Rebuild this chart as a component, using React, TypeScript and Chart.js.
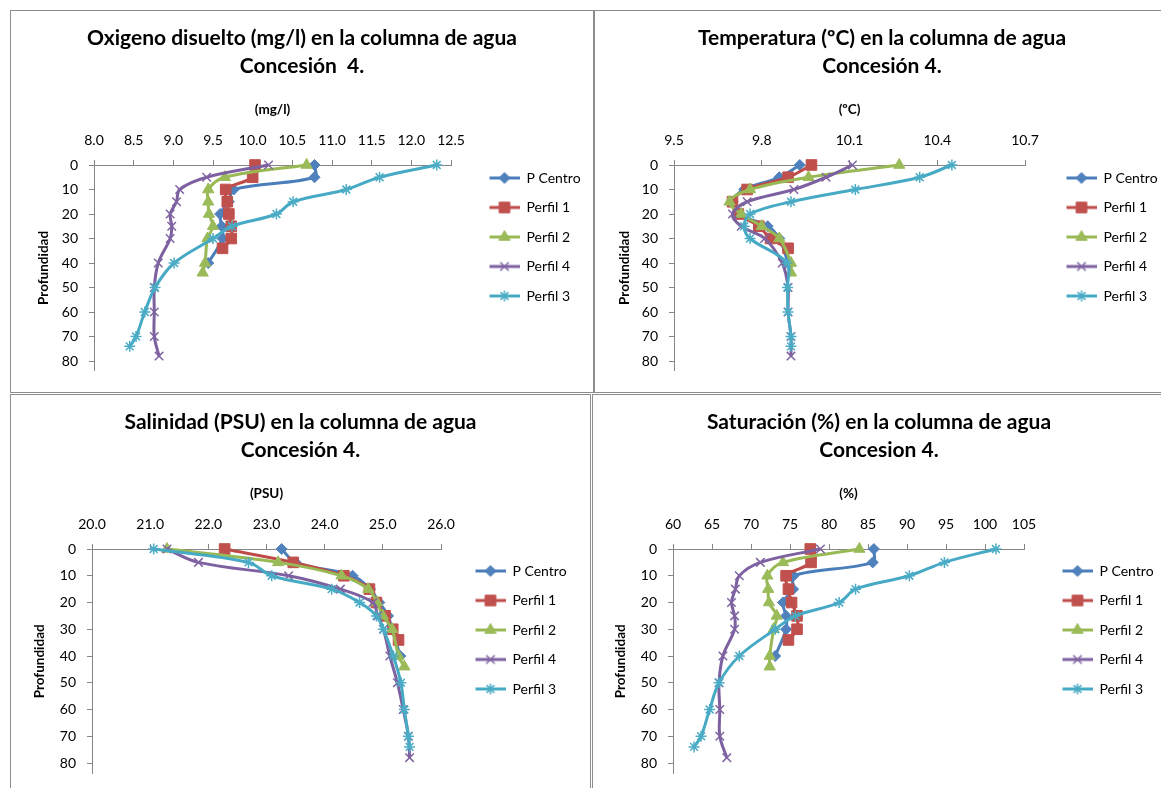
import React, { useEffect, useRef } from 'react';
import { Chart, registerables } from 'chart.js';
import { drawPoint } from 'chart.js/helpers';

Chart.register(...registerables);

// ---------- data ----------
const SERIES = ['P Centro', 'Perfil 1', 'Perfil 2', 'Perfil 4', 'Perfil 3'];

const DEPTH_PC = [0, 5, 10, 15, 20, 25, 30, 40];
const DEPTH_P1 = [0, 5, 10, 15, 20, 25, 30, 34];
const DEPTH_P2 = [0, 5, 10, 15, 20, 25, 30, 40, 44];
const DEPTH_P4 = [0, 5, 10, 15, 20, 25, 30, 40, 50, 60, 70, 78];
const DEPTH_P3 = [0, 5, 10, 15, 20, 25, 30, 40, 50, 60, 70, 74];
const DEPTH_TICKS = [0, 10, 20, 30, 40, 50, 60, 70, 80];

const OXY_PC = [10.78, 10.78, 9.76, 9.7, 9.59, 9.61, 9.62, 9.44];
const OXY_P1 = [10.03, 10.0, 9.66, 9.68, 9.7, 9.73, 9.73, 9.62];
const OXY_P2 = [10.68, 9.65, 9.44, 9.44, 9.45, 9.5, 9.43, 9.4, 9.37];
const OXY_P4 = [10.2, 9.42, 9.08, 9.04, 8.96, 8.98, 8.96, 8.81, 8.76, 8.76, 8.76, 8.82];
const OXY_P3 = [12.32, 11.6, 11.18, 10.51, 10.3, 9.74, 9.5, 9.01, 8.77, 8.64, 8.53, 8.45];
const OXY_TICKS = [8.0, 8.5, 9.0, 9.5, 10.0, 10.5, 11.0, 11.5, 12.0, 12.5];

const TEMP_PC = [9.93, 9.86, 9.74, 9.7, 9.72, 9.82, 9.86, 9.89];
const TEMP_P1 = [9.97, 9.89, 9.75, 9.7, 9.72, 9.79, 9.83, 9.89];
const TEMP_P2 = [10.27, 9.96, 9.76, 9.69, 9.73, 9.8, 9.86, 9.9, 9.9];
const TEMP_P4 = [10.11, 10.02, 9.91, 9.75, 9.7, 9.73, 9.81, 9.87, 9.89, 9.89, 9.9, 9.9];
const TEMP_P3 = [10.45, 10.34, 10.12, 9.9, 9.76, 9.74, 9.76, 9.886, 9.888, 9.89, 9.9, 9.9];
const TEMP_TICKS = [9.5, 9.8, 10.1, 10.4, 10.7];

const SAL_PC = [23.26, 23.5, 24.48, 24.78, 24.94, 25.09, 25.16, 25.3];
const SAL_P1 = [22.28, 23.46, 24.33, 24.77, 24.89, 25.04, 25.17, 25.27];
const SAL_P2 = [21.29, 23.2, 24.29, 24.75, 24.9, 25.0, 25.16, 25.27, 25.37];
const SAL_P4 = [21.29, 21.83, 23.38, 24.27, 24.83, 24.91, 25.01, 25.12, 25.25, 25.35, 25.44, 25.46];
const SAL_P3 = [21.06, 22.69, 23.09, 24.12, 24.6, 24.89, 25.01, 25.18, 25.31, 25.37, 25.44, 25.46];
const SAL_TICKS = [20, 21, 22, 23, 24, 25, 26];

const SAT_PC = [85.75, 85.6, 75.45, 75.4, 74.1, 74.5, 74.5, 73.1];
const SAT_P1 = [77.6, 77.7, 74.5, 74.8, 75.2, 75.9, 75.9, 74.8];
const SAT_P2 = [83.9, 74.1, 72.1, 72.2, 72.3, 73.3, 72.9, 72.4, 72.4];
const SAT_P4 = [78.9, 71.2, 68.5, 68.0, 67.5, 67.9, 67.9, 66.4, 65.9, 66.0, 66.0, 66.9];
const SAT_P3 = [101.4, 94.8, 90.3, 83.4, 81.3, 75.7, 73.1, 68.5, 65.9, 64.7, 63.6, 62.7];
const SAT_TICKS = [60, 65, 70, 75, 80, 85, 90, 95, 100, 105];

const DEPTHS = [DEPTH_PC, DEPTH_P1, DEPTH_P2, DEPTH_P4, DEPTH_P3];

// ---------- styles ----------
const FONT = 'Lato, "Open Sans", sans-serif';
const AXIS_COLOR = '#868686';
const TITLE_FS = 21;
const TITLE_LH = 28;
const TICK_FS = 14;
const LEG_FS = 14;
const AXT_FS = 13.5;
const YT_FS = 13.5;

const STYLES = [
  { line: '#4A7EBB', fill: '#4F81BD', point: 'rectRot', r: 5.5, bw: 1 },
  { line: '#BE4B48', fill: '#C0504D', point: 'rect', r: 7.5, bw: 1 },
  { line: '#98B954', fill: '#9BBB59', point: 'triangle', r: 6.5, bw: 1 },
  { line: '#7D60A0', fill: '#8064A2', point: 'crossRot', r: 6, bw: 1.5 },
  { line: '#46AAC5', fill: '#4BACC6', point: 'star', r: 5.5, bw: 1.5 },
];

type PanelCfg = {
  x: number; y: number; w: number; h: number;
  CL: number; CR: number; CT: number; unitPx: number;
  titleY: number; axisTitleY: number; tickY: number;
  legendX: number; legendY: number; yTitleX: number;
  title: string[]; unit: string;
  xMin: number; xMax: number; ticks: number[]; dec: number;
  values: number[][];
};

const PANELS: PanelCfg[] = [
  {
    x: 10, y: 10, w: 584, h: 383, CL: 94, CR: 451, CT: 165, unitPx: 2.45,
    titleY: 38, axisTitleY: 110, tickY: 140, legendX: 489, legendY: 178, yTitleX: 44,
    title: ['Oxigeno disuelto (mg/l) en la columna de agua', 'Concesión  4.'], unit: '(mg/l)',
    xMin: 8, xMax: 12.5, ticks: OXY_TICKS, dec: 1,
    values: [OXY_PC, OXY_P1, OXY_P2, OXY_P4, OXY_P3],
  },
  {
    x: 594, y: 10, w: 568, h: 383, CL: 674, CR: 1025, CT: 165, unitPx: 2.45,
    titleY: 38, axisTitleY: 110, tickY: 140, legendX: 1066, legendY: 178, yTitleX: 625,
    title: ['Temperatura (ºC) en la columna de agua', 'Concesión 4.'], unit: '(ºC)',
    xMin: 9.5, xMax: 10.7, ticks: TEMP_TICKS, dec: 1,
    values: [TEMP_PC, TEMP_P1, TEMP_P2, TEMP_P4, TEMP_P3],
  },
  {
    x: 10, y: 394, w: 581, h: 395, CL: 92, CR: 441, CT: 549, unitPx: 2.675,
    titleY: 422, axisTitleY: 494, tickY: 524, legendX: 475, legendY: 571, yTitleX: 40,
    title: ['Salinidad (PSU) en la columna de agua', 'Concesión 4.'], unit: '(PSU)',
    xMin: 20, xMax: 26, ticks: SAL_TICKS, dec: 1,
    values: [SAL_PC, SAL_P1, SAL_P2, SAL_P4, SAL_P3],
  },
  {
    x: 592, y: 394, w: 570, h: 395, CL: 673, CR: 1024, CT: 549, unitPx: 2.675,
    titleY: 422, axisTitleY: 494, tickY: 524, legendX: 1062, legendY: 571, yTitleX: 621,
    title: ['Saturación (%) en la columna de agua', 'Concesion 4.'], unit: '(%)',
    xMin: 60, xMax: 105, ticks: SAT_TICKS, dec: 0,
    values: [SAT_PC, SAT_P1, SAT_P2, SAT_P4, SAT_P3],
  },
];

function legendImage(st: any, gap: number): HTMLCanvasElement {
  const c = document.createElement('canvas');
  c.width = Math.round(gap + 30);
  c.height = 16;
  const g = c.getContext('2d')!;
  g.strokeStyle = st.line;
  g.lineWidth = 3;
  g.beginPath();
  g.moveTo(gap, 8);
  g.lineTo(gap + 30, 8);
  g.stroke();
  g.fillStyle = st.fill;
  g.strokeStyle = st.fill;
  g.lineWidth = st.bw;
  drawPoint(g as any, { pointStyle: st.point, radius: st.r, rotation: 0, borderWidth: st.bw } as any, gap + 15, 8);
  return c;
}

function Panel({ cfg }: { cfg: PanelCfg }) {
  const ref = useRef<HTMLCanvasElement>(null);
  const ox = cfg.x + 1;
  const oy = cfg.y + 1;
  const innerW = cfg.w - 2;
  const innerH = cfg.h - 2;
  const CBpage = cfg.CT + 84 * cfg.unitPx;

  // compute layout
  const p = 15.5;
  const CL = cfg.CL - ox;
  const CR = cfg.CR - ox;
  const CT = cfg.CT - oy;
  const CB = CBpage - oy;
  const gap = cfg.legendX - cfg.CR - p;
  const imgW = Math.round(gap + 30);

  let textW = 55;
  if (typeof document !== 'undefined') {
    const mc = document.createElement('canvas').getContext('2d')!;
    mc.font = `normal ${LEG_FS}px ${FONT}`;
    textW = Math.max(...SERIES.map((s) => mc.measureText(s).width));
  }
  const itemW = imgW + LEG_FS / 2 + textW;
  const LW = p + itemW + 10;
  let P = innerW - CR - LW;
  let extra = 0;
  if (P < 0) {
    extra = Math.ceil(-P + 1);
    P = P + extra;
  }
  const cw = innerW + extra;
  const ch = Math.max(innerH, Math.ceil(CB + 20));
  const padBottom = ch - CB;
  const yW = CL - P;

  const colH = 5 * (LEG_FS + p);
  const c1 = cfg.legendY - oy;
  const legTitleH = 2 * (c1 - LEG_FS / 2) - p - CB + colH;

  const tPadTop = cfg.titleY - oy - TITLE_LH / 2;
  const tPadBottom = 8;
  const titleH = tPadTop + 2 * TITLE_LH + tPadBottom;
  const xH = CT - titleH;
  const axtLH = AXT_FS * 1.2;
  const xTitlePad = cfg.axisTitleY - oy - titleH - axtLH / 2;
  const tickLH = TICK_FS * 1.2;
  const xTickPad = cfg.CT - cfg.tickY - 5 - tickLH / 2;
  const yLabelRight = cfg.CL - 16;
  const yTickPad = cfg.CL - 5 - yLabelRight;
  const ytLH = YT_FS * 1.2;
  const yTitlePad = cfg.yTitleX - ox - P - ytLH / 2;

  useEffect(() => {
    const canvas = ref.current!;
    const imgs = STYLES.map((st) => legendImage(st, imgW - 30));
    const datasets = cfg.values.map((vals, i) => {
      const st = STYLES[i];
      return {
        label: SERIES[i],
        data: vals.map((v, k) => ({ x: v, y: DEPTHS[i][k] })),
        showLine: true,
        borderColor: st.line,
        borderWidth: 3,
        backgroundColor: st.fill,
        pointBackgroundColor: st.fill,
        pointBorderColor: st.fill,
        pointStyle: st.point,
        pointRadius: st.r,
        pointBorderWidth: st.bw,
        pointHoverRadius: st.r,
        tension: 0.35,
        fill: false,
        clip: false,
        order: SERIES.length - i,
      };
    });

    const chart = new Chart(canvas, {
      type: 'scatter',
      data: { datasets } as any,
      options: {
        responsive: false,
        animation: false,
        events: [],
        layout: { padding: { left: P, right: P, top: 0, bottom: padBottom } },
        plugins: {
          tooltip: { enabled: false },
          title: {
            display: true,
            text: cfg.title,
            color: '#000',
            font: { family: FONT, size: TITLE_FS, weight: 'bold', lineHeight: TITLE_LH / TITLE_FS },
            padding: { top: tPadTop, bottom: tPadBottom },
          },
          legend: {
            display: true,
            position: 'right',
            align: 'center',
            title: {
              display: legTitleH > 1,
              text: ' ',
              font: { size: 1, lineHeight: 1 },
              padding: { top: Math.max(0, legTitleH - 1), bottom: 0 },
            },
            labels: {
              usePointStyle: true,
              pointStyleWidth: imgW,
              padding: p,
              color: '#000',
              font: { family: FONT, size: LEG_FS },
              generateLabels: (ch: any) =>
                ch.data.datasets.map((ds: any, i: number) => ({
                  text: ds.label,
                  datasetIndex: i,
                  pointStyle: imgs[i],
                  fillStyle: 'transparent',
                  strokeStyle: 'transparent',
                  lineWidth: 0,
                  hidden: false,
                  fontColor: '#000',
                })),
            },
          },
        },
        scales: {
          x: {
            type: 'linear',
            position: 'top',
            min: cfg.xMin,
            max: cfg.xMax,
            afterBuildTicks: (s: any) => {
              s.ticks = cfg.ticks.map((v) => ({ value: v }));
            },
            afterFit: (s: any) => {
              s.height = xH;
            },
            grid: { display: true, drawOnChartArea: false, drawTicks: true, tickLength: 5, color: AXIS_COLOR, lineWidth: 1 },
            border: { display: true, color: AXIS_COLOR, width: 1 },
            ticks: {
              color: '#000',
              padding: xTickPad,
              maxRotation: 0,
              autoSkip: false,
              font: { family: FONT, size: TICK_FS, lineHeight: 1.2 },
              callback: (v: any) => Number(v).toFixed(cfg.dec),
            },
            title: {
              display: true,
              text: cfg.unit,
              color: '#000',
              font: { family: FONT, size: AXT_FS, weight: 'bold', lineHeight: 1.2 },
              padding: { top: xTitlePad, bottom: 0 },
            },
          },
          y: {
            type: 'linear',
            position: 'left',
            reverse: true,
            min: 0,
            max: 84,
            afterBuildTicks: (s: any) => {
              s.ticks = DEPTH_TICKS.map((v) => ({ value: v }));
            },
            afterFit: (s: any) => {
              s.width = yW;
            },
            grid: { display: true, drawOnChartArea: false, drawTicks: true, tickLength: 5, color: AXIS_COLOR, lineWidth: 1 },
            border: { display: true, color: AXIS_COLOR, width: 1 },
            ticks: {
              color: '#000',
              padding: yTickPad,
              autoSkip: false,
              font: { family: FONT, size: TICK_FS, lineHeight: 1.2 },
              callback: (v: any) => String(v),
            },
            title: {
              display: true,
              text: 'Profundidad',
              color: '#000',
              font: { family: FONT, size: YT_FS, weight: 'bold', lineHeight: 1.2 },
              padding: { top: yTitlePad, bottom: 0 },
            },
          },
        },
      } as any,
    });
    return () => chart.destroy();
  }, []);

  return (
    <div
      style={{
        position: 'absolute',
        left: cfg.x,
        top: cfg.y,
        width: cfg.w,
        height: cfg.h,
        border: '1px solid #8c8c8c',
        boxSizing: 'border-box',
        overflow: 'hidden',
        background: '#fff',
      }}
    >
      <canvas ref={ref} width={cw} height={ch} style={{ display: 'block', width: cw, height: ch }} />
    </div>
  );
}

export default function App() {
  return (
    <div
      style={{
        position: 'fixed',
        left: 0,
        top: 0,
        width: 1161,
        height: 788,
        overflow: 'hidden',
        background: '#fff',
      }}
    >
      {PANELS.map((cfg, i) => (
        <Panel key={i} cfg={cfg} />
      ))}
    </div>
  );
}
